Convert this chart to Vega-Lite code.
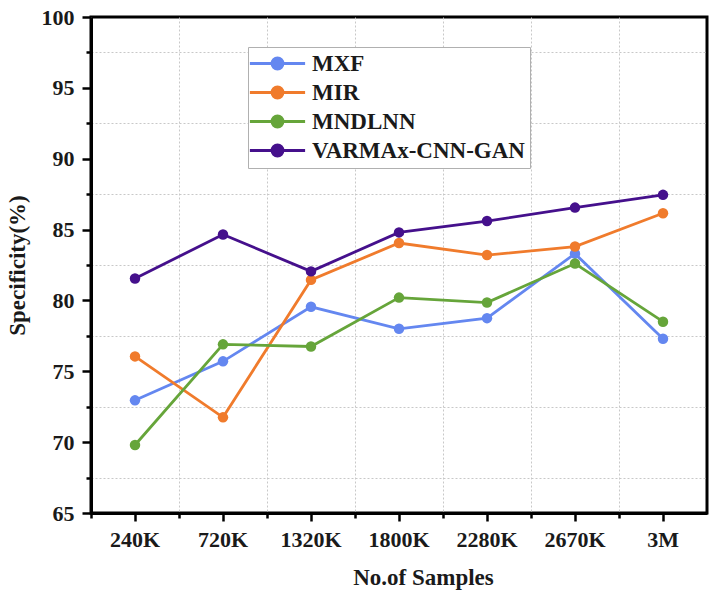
{
  "$schema": "https://vega.github.io/schema/vega-lite/v6.json",
  "width": 616,
  "height": 496,
  "autosize": "none",
  "padding": {"left": 91, "top": 17, "right": 3, "bottom": 79},
  "background": "white",
  "config": {
    "font": "Liberation Serif",
    "view": {"stroke": "black", "strokeWidth": 3},
    "axis": {
      "labelFont": "Liberation Serif",
      "labelFontWeight": "bold",
      "labelFontSize": 22,
      "labelColor": "#1a1a1a",
      "titleFont": "Liberation Serif",
      "titleFontWeight": "bold",
      "titleFontSize": 23,
      "titleColor": "#1a1a1a",
      "domainColor": "black",
      "domainWidth": 3,
      "tickColor": "black",
      "tickWidth": 2.5
    }
  },
  "data": {
    "values": [
      {"samples": "240K", "method": "MXF", "specificity": 72.95},
      {"samples": "720K", "method": "MXF", "specificity": 75.7},
      {"samples": "1320K", "method": "MXF", "specificity": 79.55},
      {"samples": "1800K", "method": "MXF", "specificity": 78.0},
      {"samples": "2280K", "method": "MXF", "specificity": 78.75},
      {"samples": "2670K", "method": "MXF", "specificity": 83.3},
      {"samples": "3M", "method": "MXF", "specificity": 77.3},
      {"samples": "240K", "method": "MIR", "specificity": 76.05},
      {"samples": "720K", "method": "MIR", "specificity": 71.75},
      {"samples": "1320K", "method": "MIR", "specificity": 81.45},
      {"samples": "1800K", "method": "MIR", "specificity": 84.05},
      {"samples": "2280K", "method": "MIR", "specificity": 83.2},
      {"samples": "2670K", "method": "MIR", "specificity": 83.8},
      {"samples": "3M", "method": "MIR", "specificity": 86.15},
      {"samples": "240K", "method": "MNDLNN", "specificity": 69.8},
      {"samples": "720K", "method": "MNDLNN", "specificity": 76.9},
      {"samples": "1320K", "method": "MNDLNN", "specificity": 76.75},
      {"samples": "1800K", "method": "MNDLNN", "specificity": 80.2},
      {"samples": "2280K", "method": "MNDLNN", "specificity": 79.85},
      {"samples": "2670K", "method": "MNDLNN", "specificity": 82.6},
      {"samples": "3M", "method": "MNDLNN", "specificity": 78.5},
      {"samples": "240K", "method": "VARMAx-CNN-GAN", "specificity": 81.55},
      {"samples": "720K", "method": "VARMAx-CNN-GAN", "specificity": 84.65},
      {"samples": "1320K", "method": "VARMAx-CNN-GAN", "specificity": 82.05},
      {"samples": "1800K", "method": "VARMAx-CNN-GAN", "specificity": 84.8},
      {"samples": "2280K", "method": "VARMAx-CNN-GAN", "specificity": 85.6},
      {"samples": "2670K", "method": "VARMAx-CNN-GAN", "specificity": 86.55},
      {"samples": "3M", "method": "VARMAx-CNN-GAN", "specificity": 87.45}
    ]
  },
  "encoding": {
    "color": {
      "field": "method",
      "type": "nominal",
      "scale": {
        "domain": ["MXF", "MIR", "MNDLNN", "VARMAx-CNN-GAN"],
        "range": ["#6487F0", "#F07B2C", "#66A53A", "#45108C"]
      },
      "legend": {
        "title": null,
        "orient": "none",
        "legendX": 157,
        "legendY": 30,
        "padding": 5,
        "strokeColor": "#b0b0b0",
        "fillColor": "white",
        "labelFont": "Liberation Serif",
        "labelFontWeight": "bold",
        "labelFontSize": 23,
        "labelColor": "#1a1a1a",
        "labelLimit": 400,
        "labelOffset": 23,
        "rowPadding": 5,
        "symbolType": "M-4.6,0L4.6,0M0.9,0A0.9,0.9,0,1,1,-0.9,0A0.9,0.9,0,1,1,0.9,0",
        "symbolSize": 144,
        "symbolStrokeWidth": 3,
        "symbolOffset": 13,
        "symbolOpacity": 1,
        "encode": {
          "symbols": {
            "update": {
              "fill": {"scale": "color", "field": "value"},
              "stroke": {"scale": "color", "field": "value"},
              "opacity": {"value": 1}
            }
          }
        }
      }
    }
  },
  "layer": [
    {
      "mark": {"type": "line", "strokeWidth": 2.8},
      "encoding": {
        "x": {
          "field": "samples",
          "type": "ordinal",
          "sort": null,
          "scale": {"type": "band", "paddingInner": 0, "paddingOuter": 0},
          "axis": {
            "orient": "bottom",
            "title": "No.of Samples",
            "titleX": 332,
            "titleY": 64,
            "titleBaseline": "middle",
            "grid": false,
            "tickSize": 8,
            "labelPadding": 8,
            "labelAngle": 0,
            "bandPosition": 0.5
          }
        },
        "y": {
          "field": "specificity",
          "type": "quantitative",
          "scale": {"domain": [65, 100], "zero": false, "nice": false},
          "axis": {
            "orient": "left",
            "title": "Specificity(%)",
            "titleX": -74,
            "titleY": 248,
            "titleBaseline": "middle",
            "titleAngle": -90,
            "titleAlign": "center",
            "values": [65, 70, 75, 80, 85, 90, 95, 100],
            "grid": false,
            "tickSize": 9,
            "labelPadding": 8
          }
        }
      }
    },
    {
      "mark": {"type": "point", "filled": true, "size": 110, "opacity": 1},
      "encoding": {
        "x": {
          "field": "samples",
          "type": "ordinal",
          "sort": null,
          "axis": {
            "orient": "bottom",
            "title": null,
            "labels": false,
            "domain": false,
            "grid": true,
            "gridColor": "#c8c8c8",
            "gridDash": [2, 2],
            "gridWidth": 1,
            "tickSize": 5,
            "bandPosition": 0
          }
        },
        "y": {
          "field": "specificity",
          "type": "quantitative",
          "axis": {
            "orient": "left",
            "title": null,
            "labels": false,
            "domain": false,
            "values": [67.5, 72.5, 77.5, 82.5, 87.5, 92.5, 97.5],
            "grid": true,
            "gridColor": "#c8c8c8",
            "gridDash": [2, 2],
            "gridWidth": 1,
            "tickSize": 5
          }
        }
      }
    }
  ],
  "resolve": {"axis": {"x": "independent", "y": "independent"}}
}
